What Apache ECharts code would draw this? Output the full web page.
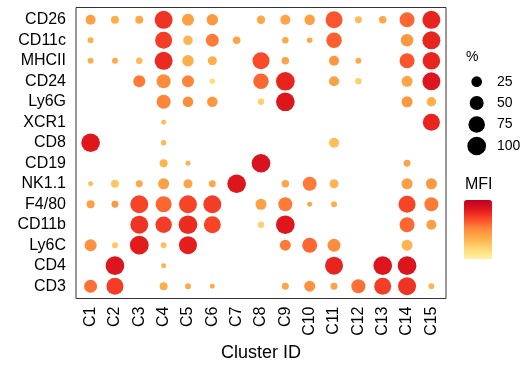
<!DOCTYPE html>
<html>
<head>
<meta charset="utf-8">
<script src="https://cdn.jsdelivr.net/npm/echarts@6/dist/echarts.min.js"></script>
<style>
html,body{margin:0;padding:0;background:#fff;}
#chart{width:528px;height:371px;}
</style>
</head>
<body>
<div id="chart"></div>
<script>
// Clusters (x axis)
var clusters = ['C1','C2','C3','C4','C5','C6','C7','C8','C9','C10','C11','C12','C13','C14','C15'];
// Markers (y axis, top to bottom)
var markers = ['CD26','CD11c','MHCII','CD24','Ly6G','XCR1','CD8','CD19','NK1.1','F4/80','CD11b','Ly6C','CD4','CD3'];

// Percent of cells (dot size), one row per marker, columns C1..C15
var pctCD26  = [21,11,11,91,34,30,null,13,21,24,80,7,9,59,91];
var pctCD11c = [4,null,null,80,18,41,9,null,5.6,3,64,null,null,37.5,91];
var pctMHCII = [4,4,5.6,91,30,15.5,null,80,9,null,21,4,null,59,86];
var pctCD24  = [null,null,34,50,34,3,null,64,100,null,21,5.6,null,27,91];
var pctLy6G  = [null,null,null,50,24,24,null,5.6,100,null,null,null,null,27,18];
var pctXCR1  = [null,null,null,2,null,null,null,null,null,null,null,null,null,null,80];
var pctCD8   = [100,null,null,3,null,null,null,null,null,null,21,null,null,null,null];
var pctCD19  = [null,null,null,11,2,null,null,100,null,null,null,null,null,7,null];
var pctNK11  = [2,11,7,27,15.5,7,100,null,9,50,15.5,null,null,27,27];
var pctF480  = [11,7,91,69,91,91,null,27,50,2,4,null,null,80,50];
var pctCD11b = [null,null,91,74,100,80,null,5.6,100,null,null,null,null,59,21];
var pctLy6C  = [34,4,100,4,91,null,null,null,27,59,41,null,null,27,null];
var pctCD4   = [null,100,null,2,null,null,null,null,null,null,91,null,100,100,null];
var pctCD3   = [41,80,null,11,4,2,null,null,7,27,7,50,80,91,4];

// Relative MFI (dot colour), 0..1
var mfiCD26  = [0.42,0.35,0.38,0.75,0.42,0.45,null,0.38,0.40,0.42,0.65,0.30,0.38,0.60,0.80];
var mfiCD11c = [0.35,null,null,0.72,0.32,0.55,0.40,null,0.38,0.38,0.62,null,null,0.45,0.80];
var mfiMHCII = [0.35,0.38,0.30,0.78,0.35,0.35,null,0.68,0.40,null,0.45,0.38,null,0.65,0.80];
var mfiCD24  = [null,null,0.55,0.50,0.52,0.15,null,0.60,0.80,null,0.42,0.20,null,0.40,0.86];
var mfiLy6G  = [null,null,null,0.52,0.50,0.45,null,0.20,0.86,null,null,null,null,0.45,0.35];
var mfiXCR1  = [null,null,null,0.30,null,null,null,null,null,null,null,null,null,null,0.80];
var mfiCD8   = [0.85,null,null,0.30,null,null,null,null,null,null,0.28,null,null,null,null];
var mfiCD19  = [null,null,null,0.33,0.35,null,null,0.88,null,null,null,null,null,0.40,null];
var mfiNK11  = [0.30,0.25,0.38,0.42,0.40,0.38,0.86,null,0.40,0.55,0.32,null,null,0.42,0.45];
var mfiF480  = [0.42,0.45,0.70,0.60,0.70,0.72,null,0.42,0.55,0.40,0.35,null,null,0.70,0.55];
var mfiCD11b = [null,null,0.75,0.72,0.78,0.70,null,0.20,0.85,null,null,null,null,0.60,0.42];
var mfiLy6C  = [0.48,0.25,0.83,0.28,0.82,null,null,null,0.55,0.60,0.50,null,null,0.32,null];
var mfiCD4   = [null,0.86,null,0.35,null,null,null,null,null,null,0.80,null,0.86,0.87,null];
var mfiCD3   = [0.58,0.72,null,0.35,0.38,0.38,null,null,0.40,0.48,0.40,0.58,0.72,0.75,0.32];

// Size legend breaks
var sizeBreaks = [25,50,75,100];

var pctRows = [pctCD26,pctCD11c,pctMHCII,pctCD24,pctLy6G,pctXCR1,pctCD8,pctCD19,pctNK11,pctF480,pctCD11b,pctLy6C,pctCD4,pctCD3];
var mfiRows = [mfiCD26,mfiCD11c,mfiMHCII,mfiCD24,mfiLy6G,mfiXCR1,mfiCD8,mfiCD19,mfiNK11,mfiF480,mfiCD11b,mfiLy6C,mfiCD4,mfiCD3];

function sizeOf(p){ return 2.7 + 1.6*Math.sqrt(p); }

var data = [];
for (var r = 0; r < markers.length; r++) {
  for (var c = 0; c < clusters.length; c++) {
    var p = pctRows[r][c];
    if (p != null) data.push([c+1, markers.length - r, p, mfiRows[r][c]]);
  }
}

var FONT = 'Liberation Sans, Arial, sans-serif';
var xVals = clusters.map(function(_, i){ return i+1; });
var yVals = markers.map(function(_, i){ return i+1; });

var graphics = [
  {type:'text', left:466, top:50, style:{text:'%', font:'14px '+FONT, fill:'#000'}},
  {type:'text', left:465, top:177, style:{text:'MFI', font:'16px '+FONT, fill:'#000'}}
];
var legendY = [81.7,103,124.5,146];
sizeBreaks.forEach(function(b, i){
  var r = sizeOf(b)/2;
  graphics.push({type:'circle', shape:{cx:476.7, cy:legendY[i], r:r}, style:{fill:'#000'}});
  graphics.push({type:'text', x:497, y:legendY[i], style:{text:String(b), font:'14px '+FONT, fill:'#000', verticalAlign:'middle', align:'left'}});
});

var chart = echarts.init(document.getElementById('chart'), null, {renderer:'canvas'});
chart.setOption({
  animation:false,
  backgroundColor:'#fff',
  grid:{left:76, right:82, top:7.5, bottom:72.5, show:true, borderColor:'#333', borderWidth:1, backgroundColor:'transparent'},
  xAxis:{
    type:'value', min:0.4, max:15.6,
    splitLine:{show:false}, axisLine:{show:false}, axisTick:{show:false},
    axisLabel:{customValues:xVals, rotate:90, margin:8, fontSize:16, color:'#000', fontFamily:FONT,
      formatter:function(v){ return clusters[Math.round(v)-1]; }},
    name:'Cluster ID', nameLocation:'middle', nameGap:46,
    nameTextStyle:{fontSize:18, color:'#000', fontFamily:FONT}
  },
  yAxis:{
    type:'value', min:0.4, max:14.6,
    splitLine:{show:false}, axisLine:{show:false}, axisTick:{show:false},
    axisLabel:{customValues:yVals, margin:10, fontSize:16, color:'#000', fontFamily:FONT,
      formatter:function(v){ return markers[markers.length - Math.round(v)]; }}
  },
  visualMap:{
    type:'continuous', dimension:3, min:0, max:1, seriesIndex:0,
    calculable:false, orient:'vertical', left:464, top:200, padding:0,
    itemWidth:28, itemHeight:59, text:null, showLabel:false,
    inRange:{color:['#FFF3A0','#FED976','#FEB24C','#FD8D3C','#FC4E2A','#E31A1C','#BD0026']}
  },
  series:[{
    type:'scatter',
    data:data,
    symbolSize:function(v){ return sizeOf(v[2]); },
    itemStyle:{opacity:1}
  }],
  graphic:graphics
});
</script>
</body>
</html>
